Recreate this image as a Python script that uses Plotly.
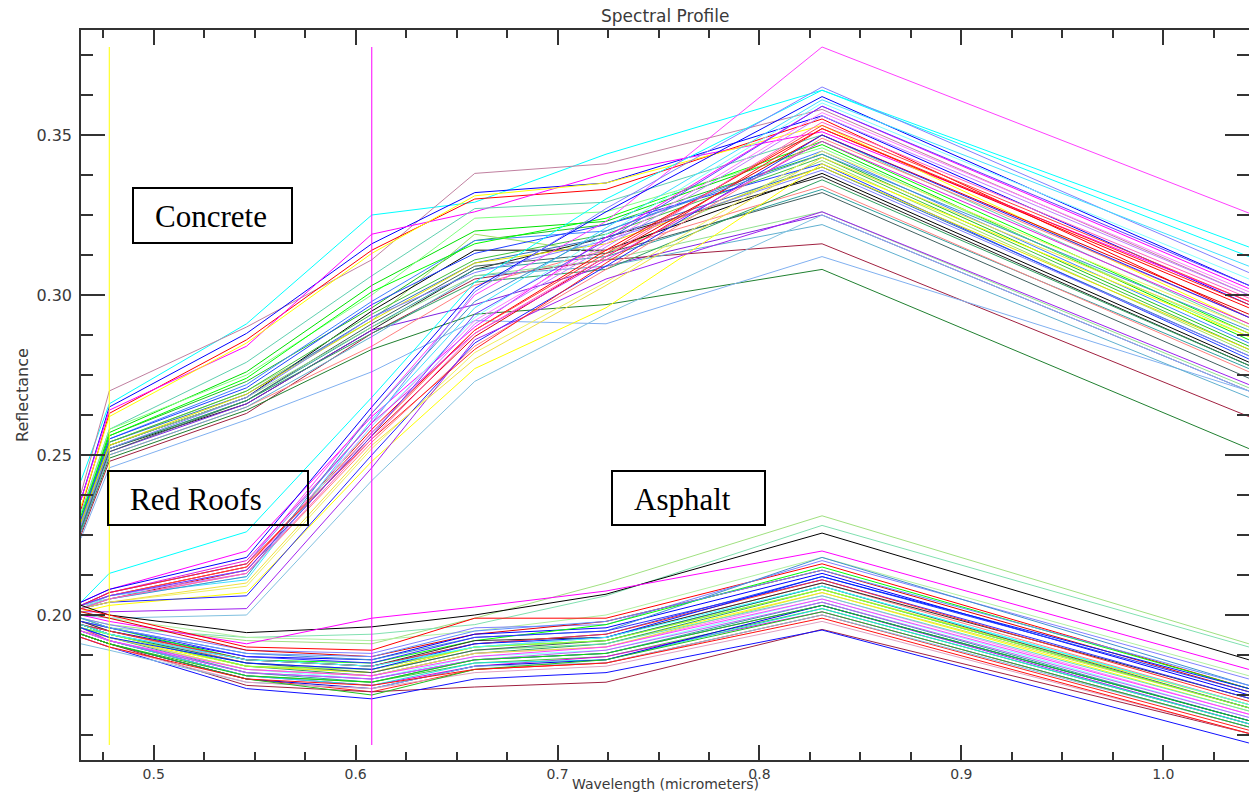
import plotly.graph_objects as go

# Band positions (micrometers); first/last are where the profiles meet the plot edges
WAVELENGTHS = [0.464, 0.478, 0.546, 0.608, 0.659, 0.724, 0.831, 1.0424]

CONCRETE = [
    [0.242, 0.266, 0.291, 0.325, 0.329, 0.344, 0.364, 0.315],
    [0.238, 0.270, 0.290, 0.311, 0.338, 0.341, 0.358, 0.300],
    [0.236, 0.265, 0.288, 0.316, 0.332, 0.335, 0.356, 0.297],
    [0.233, 0.263, 0.286, 0.314, 0.330, 0.333, 0.355, 0.293],
    [0.236, 0.264, 0.284, 0.319, 0.326, 0.338, 0.351, 0.298],
    [0.234, 0.262, 0.285, 0.313, 0.331, 0.335, 0.353, 0.291],
    [0.232, 0.258, 0.279, 0.306, 0.327, 0.329, 0.350, 0.290],
    [0.230, 0.257, 0.276, 0.303, 0.320, 0.323, 0.347, 0.286],
    [0.231, 0.258, 0.275, 0.300, 0.324, 0.326, 0.346, 0.287],
    [0.229, 0.256, 0.273, 0.296, 0.317, 0.322, 0.344, 0.284],
    [0.230, 0.255, 0.272, 0.298, 0.317, 0.320, 0.345, 0.285],
    [0.228, 0.254, 0.270, 0.292, 0.319, 0.313, 0.342, 0.282],
    [0.227, 0.253, 0.268, 0.295, 0.314, 0.314, 0.338, 0.279],
    [0.226, 0.252, 0.266, 0.289, 0.308, 0.318, 0.337, 0.278],
    [0.229, 0.254, 0.269, 0.293, 0.310, 0.318, 0.340, 0.281],
    [0.227, 0.252, 0.267, 0.290, 0.308, 0.312, 0.333, 0.277],
    [0.226, 0.251, 0.266, 0.289, 0.297, 0.309, 0.325, 0.270],
    [0.225, 0.248, 0.263, 0.288, 0.305, 0.311, 0.316, 0.262],
    [0.228, 0.250, 0.265, 0.284, 0.303, 0.314, 0.334, 0.276],
    [0.226, 0.249, 0.264, 0.283, 0.294, 0.297, 0.308, 0.252],
    [0.224, 0.246, 0.261, 0.276, 0.292, 0.291, 0.312, 0.270],
    [0.229, 0.254, 0.270, 0.294, 0.311, 0.319, 0.343, 0.283],
    [0.230, 0.255, 0.271, 0.297, 0.313, 0.322, 0.341, 0.280],
    [0.227, 0.251, 0.267, 0.291, 0.309, 0.313, 0.332, 0.274],
    [0.226, 0.250, 0.265, 0.287, 0.306, 0.309, 0.322, 0.268],
    [0.228, 0.253, 0.268, 0.290, 0.306, 0.311, 0.326, 0.271],
    [0.231, 0.256, 0.274, 0.301, 0.316, 0.324, 0.348, 0.288],
    [0.227, 0.252, 0.267, 0.288, 0.304, 0.308, 0.336, 0.278],
    [0.229, 0.253, 0.269, 0.292, 0.310, 0.316, 0.340, 0.283],
    [0.228, 0.252, 0.268, 0.293, 0.307, 0.317, 0.339, 0.281],
]
CONCRETE_COLORS = [
    "#00ffff", "#c080a0", "#0000ff", "#ff0000", "#ff00ff", "#ffff00", "#60d0b0",
    "#00e000", "#80ff80", "#20c020", "#4080ff", "#a0e060", "#000000", "#202020",
    "#3070c0", "#30a0a0", "#8020e0", "#a02040", "#ff8080", "#208030", "#80b0f0",
    "#40c040", "#2040ff", "#406060", "#60b0d0", "#90e090", "#00ff00", "#30a060",
    "#e0e000", "#8080ff",
]

RED_ROOFS = [
    [0.204, 0.213, 0.226, 0.268, 0.304, 0.330, 0.364, 0.312],
    [0.204, 0.208, 0.220, 0.262, 0.290, 0.318, 0.359, 0.302],
    [0.203, 0.207, 0.216, 0.263, 0.300, 0.323, 0.3775, 0.3256],
    [0.204, 0.208, 0.218, 0.265, 0.302, 0.326, 0.362, 0.303],
    [0.203, 0.207, 0.216, 0.260, 0.301, 0.327, 0.365, 0.307],
    [0.203, 0.206, 0.215, 0.258, 0.289, 0.314, 0.352, 0.296],
    [0.203, 0.205, 0.214, 0.256, 0.287, 0.312, 0.350, 0.294],
    [0.203, 0.206, 0.214, 0.259, 0.292, 0.316, 0.357, 0.301],
    [0.202, 0.205, 0.213, 0.254, 0.284, 0.308, 0.349, 0.293],
    [0.202, 0.206, 0.211, 0.261, 0.296, 0.321, 0.361, 0.309],
    [0.201, 0.203, 0.207, 0.248, 0.277, 0.296, 0.341, 0.287],
    [0.202, 0.204, 0.209, 0.252, 0.282, 0.304, 0.345, 0.290],
    [0.202, 0.204, 0.206, 0.250, 0.285, 0.309, 0.350, 0.293],
    [0.201, 0.201, 0.202, 0.246, 0.286, 0.305, 0.326, 0.272],
    [0.200, 0.199, 0.200, 0.242, 0.273, 0.294, 0.325, 0.270],
    [0.203, 0.206, 0.215, 0.257, 0.289, 0.313, 0.353, 0.298],
    [0.203, 0.205, 0.212, 0.259, 0.293, 0.319, 0.360, 0.305],
    [0.203, 0.206, 0.213, 0.257, 0.291, 0.315, 0.356, 0.300],
    [0.203, 0.207, 0.217, 0.260, 0.288, 0.311, 0.348, 0.291],
    [0.203, 0.207, 0.216, 0.255, 0.283, 0.310, 0.352, 0.297],
    [0.202, 0.205, 0.212, 0.263, 0.298, 0.320, 0.344, 0.289],
    [0.202, 0.204, 0.210, 0.253, 0.280, 0.303, 0.343, 0.288],
    [0.203, 0.206, 0.214, 0.256, 0.294, 0.317, 0.359, 0.303],
    [0.202, 0.205, 0.213, 0.255, 0.288, 0.312, 0.354, 0.299],
]
RED_ROOFS_COLORS = [
    "#00ffff", "#ff00ff", "#ff40ff", "#0000ff", "#8080ff", "#ff0000", "#e00000",
    "#ff80ff", "#ff8080", "#40e0ff", "#ffff00", "#f0f060", "#2020ff", "#a020f0",
    "#80c0e0", "#ff4040", "#80ffff", "#c080ff", "#e020e0", "#ff2020", "#4090d0",
    "#f0e040", "#6040ff", "#ff60c0",
]

ASPHALT = [
    [0.199, 0.197, 0.192, 0.191, 0.199, 0.210, 0.231, 0.191],
    [0.198, 0.196, 0.193, 0.194, 0.197, 0.206, 0.228, 0.190],
    [0.203, 0.200, 0.1945, 0.1963, 0.200, 0.2065, 0.2256, 0.186],
    [0.200, 0.198, 0.191, 0.199, 0.2025, 0.2075, 0.220, 0.183],
    [0.201, 0.199, 0.193, 0.192, 0.195, 0.200, 0.218, 0.181],
    [0.202, 0.200, 0.190, 0.189, 0.199, 0.199, 0.216, 0.177],
    [0.199, 0.197, 0.189, 0.188, 0.196, 0.197, 0.217, 0.180],
    [0.201, 0.199, 0.189, 0.187, 0.194, 0.198, 0.214, 0.176],
    [0.197, 0.195, 0.187, 0.186, 0.194, 0.196, 0.213, 0.175],
    [0.198, 0.196, 0.188, 0.186, 0.193, 0.195, 0.218, 0.178],
    [0.199, 0.196, 0.186, 0.185, 0.192, 0.197, 0.215, 0.177],
    [0.197, 0.194, 0.186, 0.184, 0.191, 0.194, 0.212, 0.176],
    [0.196, 0.194, 0.185, 0.183, 0.190, 0.192, 0.209, 0.172],
    [0.196, 0.193, 0.184, 0.182, 0.189, 0.191, 0.207, 0.170],
    [0.198, 0.195, 0.185, 0.183, 0.190, 0.193, 0.210, 0.172],
    [0.197, 0.194, 0.184, 0.181, 0.188, 0.191, 0.208, 0.171],
    [0.198, 0.195, 0.186, 0.184, 0.192, 0.193, 0.210, 0.174],
    [0.196, 0.193, 0.183, 0.181, 0.188, 0.190, 0.206, 0.169],
    [0.196, 0.193, 0.183, 0.180, 0.187, 0.189, 0.205, 0.168],
    [0.195, 0.192, 0.182, 0.180, 0.186, 0.188, 0.203, 0.166],
    [0.196, 0.193, 0.182, 0.179, 0.186, 0.188, 0.204, 0.167],
    [0.195, 0.193, 0.183, 0.181, 0.188, 0.190, 0.207, 0.171],
    [0.195, 0.192, 0.181, 0.179, 0.185, 0.187, 0.202, 0.166],
    [0.196, 0.192, 0.181, 0.178, 0.184, 0.187, 0.201, 0.165],
    [0.194, 0.191, 0.180, 0.176, 0.183, 0.185, 0.200, 0.164],
    [0.195, 0.192, 0.181, 0.178, 0.185, 0.186, 0.202, 0.166],
    [0.194, 0.191, 0.180, 0.177, 0.184, 0.186, 0.203, 0.167],
    [0.194, 0.191, 0.178, 0.176, 0.1775, 0.179, 0.1955, 0.163],
    [0.193, 0.190, 0.177, 0.1738, 0.180, 0.182, 0.1953, 0.160],
    [0.191, 0.189, 0.179, 0.177, 0.184, 0.185, 0.200, 0.165],
    [0.193, 0.190, 0.179, 0.177, 0.182, 0.184, 0.198, 0.163],
    [0.194, 0.191, 0.180, 0.175, 0.183, 0.186, 0.201, 0.165],
    [0.196, 0.194, 0.184, 0.182, 0.189, 0.191, 0.206, 0.170],
    [0.197, 0.194, 0.184, 0.182, 0.190, 0.192, 0.208, 0.172],
    [0.198, 0.196, 0.187, 0.185, 0.193, 0.195, 0.211, 0.174],
    [0.197, 0.195, 0.186, 0.184, 0.191, 0.194, 0.211, 0.173],
    [0.199, 0.196, 0.188, 0.187, 0.195, 0.198, 0.214, 0.178],
    [0.197, 0.194, 0.185, 0.182, 0.189, 0.192, 0.209, 0.171],
    [0.196, 0.194, 0.184, 0.183, 0.190, 0.192, 0.208, 0.171],
    [0.195, 0.192, 0.182, 0.180, 0.186, 0.189, 0.204, 0.168],
    [0.196, 0.193, 0.185, 0.183, 0.191, 0.193, 0.212, 0.177],
    [0.197, 0.194, 0.186, 0.184, 0.190, 0.193, 0.209, 0.172],
    [0.195, 0.192, 0.183, 0.181, 0.187, 0.190, 0.205, 0.169],
    [0.194, 0.191, 0.181, 0.179, 0.186, 0.188, 0.203, 0.167],
    [0.193, 0.190, 0.180, 0.178, 0.183, 0.185, 0.199, 0.163],
]
ASPHALT_COLORS = [
    "#a0e080", "#80e0b0", "#000000", "#ff00ff", "#b0f0a0", "#ff0000", "#8080ff",
    "#e00000", "#0000ff", "#4090d0", "#00ff00", "#2040ff", "#00ffff", "#ffff00",
    "#ff8080", "#30a060", "#303030", "#ff80ff", "#80ffff", "#a020f0", "#30a0a0",
    "#e0e040", "#40c040", "#e000e0", "#ff2020", "#20e0e0", "#0000e0", "#a02040",
    "#1010ff", "#80c0e0", "#e0a0c0", "#20c020", "#60e0c0", "#f0f000", "#3030ff",
    "#ff3030", "#6090ff", "#406060", "#80ff40", "#c060ff", "#0020ff", "#40ffff",
    "#ff40ff", "#10d010", "#ff1010",
]

CLASS_LABELS = ["Concrete", "Red Roofs", "Asphalt"]
MARKER_BANDS = [0.478, 0.608]
MARKER_COLORS = ["#ffff00", "#ff00ff"]

X_RANGE = [0.4640, 1.04244]
Y_RANGE = [0.15469, 0.38281]
W, H = 1249, 793
ML, MR, MT, MB = 81, 0, 30, 33
TXT = "#3a3a3a"

fig = go.Figure()
for group, colors in ((CONCRETE, CONCRETE_COLORS), (RED_ROOFS, RED_ROOFS_COLORS), (ASPHALT, ASPHALT_COLORS)):
    for vals, c in zip(group, colors):
        fig.add_trace(go.Scatter(x=WAVELENGTHS, y=vals, mode="lines",
                                 line=dict(color=c, width=1), showlegend=False,
                                 hoverinfo="skip"))

axis_common = dict(
    showline=True, linecolor="#333333", linewidth=1.5, mirror="ticks",
    ticks="inside", tickcolor="#333333", tickwidth=1.5, showgrid=False,
    zeroline=False,
)
fig.update_xaxes(range=X_RANGE, dtick=0.1, tick0=0, tickformat=".1f", ticklen=15,
                 minor=dict(dtick=0.025, tick0=0, ticklen=8, ticks="inside",
                            tickcolor="#333333", tickwidth=1.5, showgrid=False),
                 tickfont=dict(family="DejaVu Sans", size=14, color=TXT),
                 ticklabelstandoff=0, automargin=False, **axis_common)
fig.update_yaxes(range=Y_RANGE, dtick=0.05, tick0=0, tickformat=".2f", ticklen=24,
                 minor=dict(dtick=0.0125, tick0=0, ticklen=12, ticks="inside",
                            tickcolor="#333333", tickwidth=1.5, showgrid=False),
                 tickfont=dict(family="DejaVu Sans", size=16, color=TXT),
                 ticklabelstandoff=4, automargin=False, **axis_common)

pw = W - ML - MR
ph = H - MT - MB
def px_x(p):
    return (p - ML) / pw
def px_y(p):
    return (H - MB - p) / ph

shapes = []
for b, c in zip(MARKER_BANDS, MARKER_COLORS):
    shapes.append(dict(type="line", xref="x", yref="paper", x0=b, x1=b,
                       y0=px_y(745), y1=px_y(47), line=dict(color=c, width=1),
                       layer="above"))

boxes = [(133, 188, 292, 243), (108, 471, 308, 525), (612, 471, 765, 525)]
annotations = []
for label, (x0, y0, x1, y1) in zip(CLASS_LABELS, boxes):
    shapes.append(dict(type="rect", xref="paper", yref="paper",
                       x0=px_x(x0), x1=px_x(x1), y0=px_y(y1), y1=px_y(y0),
                       line=dict(color="black", width=2), fillcolor="rgba(0,0,0,0)",
                       layer="above"))
    annotations.append(dict(text=label, xref="paper", yref="paper",
                            x=px_x(x0 + 20), y=px_y((y0 + y1) / 2 + 1),
                            xanchor="left", yanchor="middle", showarrow=False,
                            font=dict(family="Liberation Serif", size=31, color="black")))

annotations.append(dict(text="Spectral Profile", xref="paper", yref="paper", x=0.5, y=1,
                        yanchor="bottom", xanchor="center", yshift=2, showarrow=False,
                        font=dict(family="DejaVu Sans", size=17, color=TXT)))
annotations.append(dict(text="Wavelength (micrometers)", xref="paper", yref="paper",
                        x=0.5, y=px_y(H), yanchor="bottom", xanchor="center",
                        showarrow=False, borderpad=0,
                        font=dict(family="DejaVu Sans", size=14, color=TXT)))
annotations.append(dict(text="Reflectance", xref="paper", yref="paper", x=0, y=0.5,
                        xanchor="center", yanchor="middle", xshift=-(ML - 22),
                        textangle=-90, showarrow=False,
                        font=dict(family="DejaVu Sans", size=16, color=TXT)))

fig.update_layout(width=W, height=H, autosize=False,
                  margin=dict(l=ML, r=MR, t=MT, b=MB, pad=0),
                  paper_bgcolor="white", plot_bgcolor="white",
                  shapes=shapes, annotations=annotations, showlegend=False)

fig.write_html("out.html")
